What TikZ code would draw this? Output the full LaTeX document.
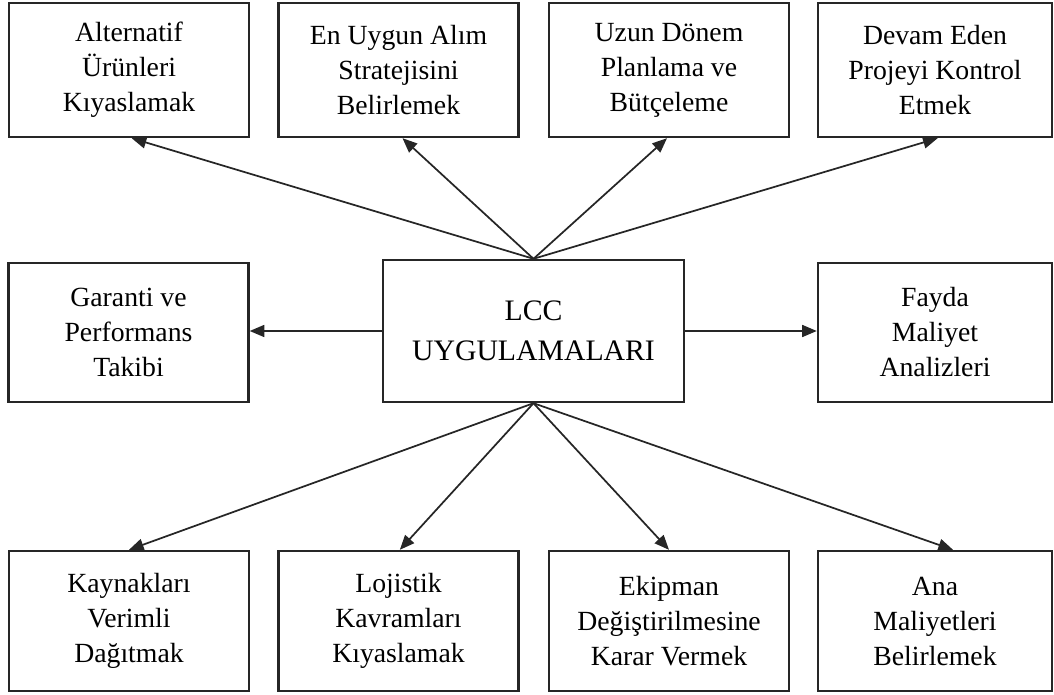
\documentclass[tikz,border=0pt]{standalone}
\usepackage{fontspec}
\setmainfont{Liberation Serif}
\usetikzlibrary{arrows.meta}
\definecolor{ink}{RGB}{38,38,38}
\tikzset{
  box/.style={draw=ink, line width=1.8pt, inner sep=0pt, align=center,
    minimum width=180pt, font=\fontsize{20.8}{26.25}\selectfont},
  hub/.style={draw=ink, line width=1.8pt, inner sep=0pt, align=center,
    minimum width=225.75pt, minimum height=106.5pt,
    font=\fontsize{22.3}{30}\selectfont},
  arr/.style={draw=ink, line width=1.3pt, -{Triangle[length=11pt,width=9pt]}},
  toprow/.style={box, minimum height=100.5pt},
  midrow/.style={box, minimum height=104.25pt},
  botrow/.style={box, minimum height=105pt}
}
\begin{document}
\begin{tikzpicture}[x=0.75pt, y=-0.75pt]
\useasboundingbox (0,0) rectangle (1054,695);

% central node
\node[hub] (c) at (533.5,331) {LCC\\UYGULAMALARI};

% upper row
\node[toprow] (t1) at (129,70) {Alternatif\\Ürünleri\\Kıyaslamak};
\node[toprow] (t2) at (398.5,70) {En Uygun Alım\\Stratejisini\\Belirlemek};
\node[toprow] (t3) at (669,70) {Uzun Dönem\\Planlama ve\\Bütçeleme};
\node[toprow, minimum width=175.5pt] (t4) at (935,70) {Devam Eden\\Projeyi Kontrol\\Etmek};

% middle row
\node[midrow] (ml) at (128.5,332.5) {Garanti ve\\Performans\\Takibi};
\node[midrow, minimum width=175.5pt] (mr) at (935,332.5) {Fayda\\Maliyet\\Analizleri};

% lower row
\node[botrow] (b1) at (129,621) {Kaynakları\\Verimli\\Dağıtmak};
\node[botrow] (b2) at (398.5,621) {Lojistik\\Kavramları\\Kıyaslamak};
\node[botrow] (b3) at (669,621) {Ekipman\\Değiştirilmesine\\Karar Vermek};
\node[botrow, minimum width=175.5pt] (b4) at (935,621) {Ana\\Maliyetleri\\Belirlemek};

% connectors
\draw[arr] (c.north) -- ([xshift=2pt]t1.south);
\draw[arr] (c.north) -- ([xshift=3pt]t2.south);
\draw[arr] (c.north) -- ([xshift=-1.5pt]t3.south);
\draw[arr] (c.north) -- ([xshift=2pt]t4.south);
\draw[arr] (c.west) -- (c.west -| ml.east);
\draw[arr] (c.east) -- (c.east -| mr.west);
\draw[arr] (c.south) -- (b1.north);
\draw[arr] (c.south) -- ([xshift=1pt]b2.north);
\draw[arr] (c.south) -- (b3.north);
\draw[arr] (c.south) -- ([xshift=13.5pt]b4.north);
\end{tikzpicture}
\end{document}
